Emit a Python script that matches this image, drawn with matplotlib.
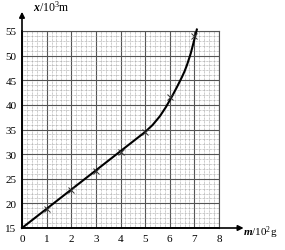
import numpy as np
import matplotlib
matplotlib.use('Agg')
import matplotlib.pyplot as plt
from matplotlib.ticker import MultipleLocator

######## data
m_pts = [1, 2, 3, 4, 5, 6, 7]
x_pts = [18.8, 22.8, 26.6, 30.5, 34.5, 41.5, 54.0]

####### hand drawn curve through the points
curve_m = [0, 5.0, 5.3, 5.6, 5.85, 6.1, 6.3, 6.5, 6.6, 6.7, 6.85, 7.0, 7.1]
curve_x = [15, 34.5, 35.9, 37.7, 39.6, 41.8, 43.7, 45.7, 46.8, 48.1, 50.4, 53.3, 55.3]

xticks = [0, 1, 2, 3, 4, 5, 6, 7, 8]
yticks = [15, 20, 25, 30, 35, 40, 45, 50, 55]

serif = 'Liberation Serif'
plt.rcParams['mathtext.fontset'] = 'custom'
plt.rcParams['mathtext.rm'] = serif
plt.rcParams['mathtext.it'] = serif + ':italic'
plt.rcParams['mathtext.bf'] = serif + ':bold:italic'

fig = plt.figure(figsize=(2.85, 2.51), dpi=100)
ax = fig.add_axes([22/285, 22/251, 197/285, 197/251])
ax.set_xlim(0, 8)
ax.set_ylim(15, 55)

####### graph paper
ax.xaxis.set_minor_locator(MultipleLocator(0.2))
ax.yaxis.set_minor_locator(MultipleLocator(1))
ax.grid(which='minor', color='#999999', lw=0.5, ls=(0, (1, 1)))
ax.grid(which='major', color='#555555', lw=0.8)
for s in ['top', 'right']:
    ax.spines[s].set_color('#555555')
    ax.spines[s].set_linewidth(0.8)
for s in ['left', 'bottom']:
    ax.spines[s].set_linewidth(1.2)
ax.set_xticks(xticks)
ax.set_yticks(yticks)
ax.tick_params(which='both', length=0, labelsize=8, pad=4)
for lab in ax.get_xticklabels() + ax.get_yticklabels():
    lab.set_family(serif)

####### axis arrows
ax.annotate('', xy=(9.0, 15), xytext=(0, 15), annotation_clip=False,
            arrowprops=dict(arrowstyle='-|>', color='black', lw=1.2,
                            mutation_scale=8, shrinkA=0, shrinkB=0))
ax.annotate('', xy=(0, 58.9), xytext=(0, 15), annotation_clip=False,
            arrowprops=dict(arrowstyle='-|>', color='black', lw=1.2,
                            mutation_scale=8, shrinkA=0, shrinkB=0))

####### plot data
ax.plot(curve_m, curve_x, color='black', lw=1.5, clip_on=False, zorder=3)
ax.plot(m_pts, x_pts, 'x', color='#333333', ms=5, mew=0.7, zorder=4)

fig.text(33/285, 1 - 7/251, r'$\mathbf{x}$/10$^3$m', fontsize=8.5,
         family=serif, va='center', ha='left')
fig.text(243/285, 1 - 233/251, r'$\mathbf{m}$/10$^2$g', fontsize=8,
         family=serif, va='center', ha='left')

plt.savefig('out.png', dpi=100)
